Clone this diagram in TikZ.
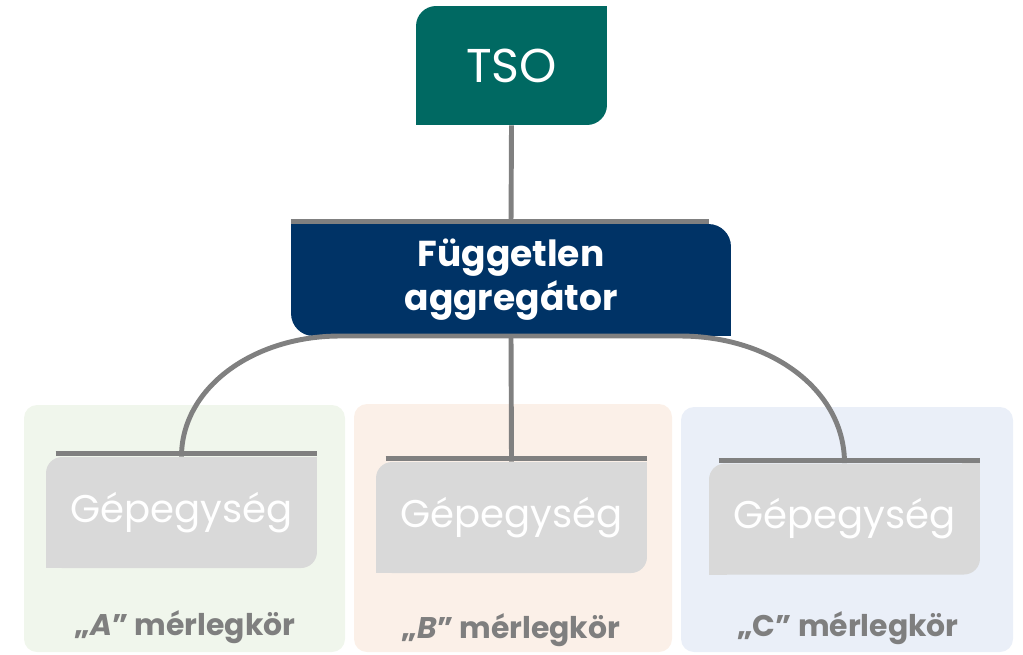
\documentclass[tikz,border=0pt]{standalone}
\usepackage{fontspec}
\setmainfont{Poppins}
\usetikzlibrary{positioning}
\definecolor{tsogreen}{RGB}{0,105,98}
\definecolor{aggblue}{RGB}{0,51,102}
\definecolor{gepgray}{RGB}{217,217,217}
\definecolor{linegray}{RGB}{128,128,128}
\definecolor{labgray}{RGB}{127,127,127}
\definecolor{panelA}{RGB}{240,246,236}
\definecolor{panelB}{RGB}{251,240,232}
\definecolor{panelC}{RGB}{234,239,248}
\begin{document}
\begin{tikzpicture}[x=0.02cm, y=-0.02cm,
	conn/.style={draw=linegray, line width=2.8pt},
	bar/.style={draw=linegray, line width=3pt},
	tsobox/.style={fill=tsogreen, text=white, rounded corners=0.4cm, minimum width=3.82cm, minimum height=2.38cm, font=\fontsize{27}{30}\selectfont},
	aggbox/.style={fill=aggblue, text=white, rounded corners=0.45cm, minimum width=8.8cm, minimum height=2.24cm, align=center, font=\fontsize{20.5}{25}\selectfont\bfseries},
	gepbox/.style={fill=gepgray, text=white, rounded corners=0.32cm, minimum width=5.42cm, minimum height=2.22cm, font=\fontsize{22}{26}\selectfont},
	lab/.style={text=labgray, font=\fontsize{17}{20}\selectfont\bfseries}]
	\useasboundingbox (0,0) rectangle (1023,654);
	
	% 1. háttér panelek (mérlegkörök)
	\fill[panelA, rounded corners=0.26cm] (24,405) rectangle (345,652);
	\fill[panelB, rounded corners=0.26cm] (354,404) rectangle (672,652);
	\fill[panelC, rounded corners=0.26cm] (681,407) rectangle (1013,652);
	
	% 2. dobozok
	\node[tsobox] (tso) at (511.5,65.5) {TSO};
	\fill[tsogreen] (tso.north east) rectangle ++(-20,20);
	\fill[tsogreen] (tso.south west) rectangle ++(20,-20);
	
	\node[aggbox] (agg) at (511,280) {Független\\aggregátor};
	\fill[aggblue] (agg.north west) rectangle ++(25,25);
	\fill[aggblue] (agg.south east) rectangle ++(-25,-25);
	\draw[bar] ([yshift=0.05cm]agg.north west) -- ([xshift=-0.44cm, yshift=0.05cm]agg.north east);
	
	\foreach \nm/\cx/\cy in {A/181.5/512.5, B/511.5/517.5, C/844.5/519}{
		\node[gepbox] (gep\nm) at (\cx,\cy) {Gépegység};
		\fill[gepgray] (gep\nm.north east) rectangle ++(-18,18);
		\fill[gepgray] (gep\nm.south west) rectangle ++(18,-18);
		\draw[bar] ([xshift=0.2cm, yshift=0.06cm]gep\nm.north west) -- ([yshift=0.06cm]gep\nm.north east);
	}
	
	% 3. összekötők
	\coordinate (arcL) at (340,336);
	\coordinate (arcR) at (680,336);
	\draw[conn] (tso.south) -- (agg.north);
	\draw[conn] (agg.south) -- (gepB.north);
	\draw[conn] (gepA.north) .. controls (181.5,388) and (253,336) .. (arcL) -- (arcR)
		.. controls (771,336) and (844.5,390) .. (gepC.north);
	
	% 4. mérlegkör feliratok
	\node[lab] (labA) at (185,627) {„\textit{A}” mérlegkör};
	\node[lab] (labB) at (511,630) {„\textit{B}” mérlegkör};
	\node[lab] (labC) at (848,628) {„C” mérlegkör};
\end{tikzpicture}
\end{document}
